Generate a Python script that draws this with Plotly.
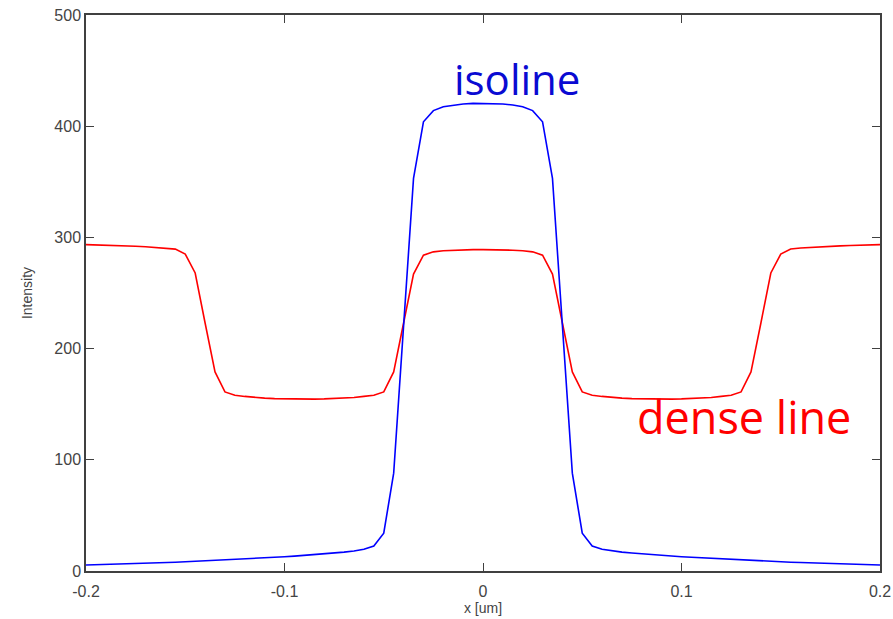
import plotly.graph_objects as go

x_um = [-0.2, -0.195, -0.19, -0.185, -0.18, -0.175, -0.17, -0.165, -0.16, -0.155,
        -0.15, -0.145, -0.14, -0.135, -0.13, -0.125, -0.12, -0.115, -0.11, -0.105,
        -0.1, -0.095, -0.09, -0.085, -0.08, -0.075, -0.07, -0.065, -0.06, -0.055,
        -0.05, -0.045, -0.04, -0.035, -0.03, -0.025, -0.02, -0.015, -0.01, -0.005,
        0.0,
        0.005, 0.01, 0.015, 0.02, 0.025, 0.03, 0.035, 0.04, 0.045, 0.05,
        0.055, 0.06, 0.065, 0.07, 0.075, 0.08, 0.085, 0.09, 0.095, 0.1,
        0.105, 0.11, 0.115, 0.12, 0.125, 0.13, 0.135, 0.14, 0.145, 0.15,
        0.155, 0.16, 0.165, 0.17, 0.175, 0.18, 0.185, 0.19, 0.195, 0.2]

isoline = [5.4, 5.6, 5.9, 6.1, 6.4, 6.7, 7.0, 7.3, 7.6, 7.9,
           8.3, 8.7, 9.1, 9.5, 9.9, 10.3, 10.8, 11.3, 11.8, 12.3,
           12.8, 13.4, 14.0, 14.7, 15.4, 16.2, 17.0, 18.0, 19.5, 22.5,
           34.0, 88.0, 218.0, 353.0, 404.0, 414.0, 417.5, 419.0, 420.0, 420.5,
           420.5,
           420.5, 420.0, 419.0, 417.5, 414.0, 404.0, 353.0, 218.0, 88.0, 34.0,
           22.5, 19.5, 18.0, 17.0, 16.2, 15.4, 14.7, 14.0, 13.4, 12.8,
           12.3, 11.8, 11.3, 10.8, 10.3, 9.9, 9.5, 9.1, 8.7, 8.3,
           7.9, 7.6, 7.3, 7.0, 6.7, 6.4, 6.1, 5.9, 5.6, 5.4]

dense_line = [293.5, 293.3, 293.0, 292.7, 292.4, 292.0, 291.6, 291.1, 290.5, 289.5,
              285.0, 268.0, 223.0, 179.0, 161.0, 158.0, 157.0, 156.0, 155.5, 155.0,
              154.8, 154.6, 154.5, 154.6, 154.8, 155.0, 155.5, 156.0, 157.0, 158.0,
              161.0, 179.0, 223.0, 267.0, 284.0, 287.0, 288.0, 288.5, 288.8, 289.0,
              289.0,
              289.0, 288.8, 288.5, 288.0, 287.0, 284.0, 267.0, 223.0, 179.0, 161.0,
              158.0, 157.0, 156.0, 155.5, 155.0, 154.8, 154.6, 154.5, 154.6, 154.8,
              155.0, 155.5, 156.0, 157.0, 158.0, 161.0, 179.0, 223.0, 268.0, 285.0,
              289.5, 290.5, 291.1, 291.6, 292.0, 292.4, 292.7, 293.0, 293.3, 293.5]

x_ticks = [-0.2, -0.1, 0, 0.1, 0.2]
x_tick_labels = ["-0.2", "-0.1", "0", "0.1", "0.2"]
y_ticks = [0, 100, 200, 300, 400, 500]
y_tick_labels = ["0", "100", "200", "300", "400", "500"]

fig = go.Figure()
fig.add_trace(go.Scatter(x=x_um, y=dense_line, mode="lines",
                         line=dict(color="#ff0000", width=1.6), name="dense line"))
fig.add_trace(go.Scatter(x=x_um, y=isoline, mode="lines",
                         line=dict(color="#0000ff", width=1.6), name="isoline"))

fig.add_annotation(x=-0.0158, y=443, xref="x", yref="y", text="isoline",
                   showarrow=False, xanchor="left", yanchor="middle",
                   font=dict(family="Open Sans", size=42, color="#0a0ad2"))
fig.add_annotation(x=0.0765, y=139, xref="x", yref="y", text="dense line",
                   showarrow=False, xanchor="left", yanchor="middle",
                   font=dict(family="Open Sans", size=45, color="#ff0000"))

axis_common = dict(showgrid=False, zeroline=False, showline=True, linecolor="#404040",
                   linewidth=1.5, mirror="ticks", ticks="inside", ticklen=8,
                   tickwidth=1.3, tickcolor="#404040", automargin=False,
                   tickfont=dict(family="Liberation Sans", size=16, color="#444444"))

fig.update_xaxes(range=[-0.2, 0.2], tickvals=x_ticks, ticktext=x_tick_labels,
                 ticklabelstandoff=5,
                 title=dict(text="x [um]", font=dict(family="Liberation Sans", size=14, color="#444444"),
                            standoff=0),
                 **axis_common)
fig.update_yaxes(range=[0, 500], tickvals=y_ticks, ticktext=y_tick_labels,
                 title=dict(text="Intensity", font=dict(family="Liberation Sans", size=14, color="#444444"),
                            standoff=18),
                 **axis_common)

fig.update_layout(width=893, height=619, showlegend=False,
                  plot_bgcolor="white", paper_bgcolor="white",
                  margin=dict(l=86, r=13, t=15, b=48))

fig.write_html("out.html")
